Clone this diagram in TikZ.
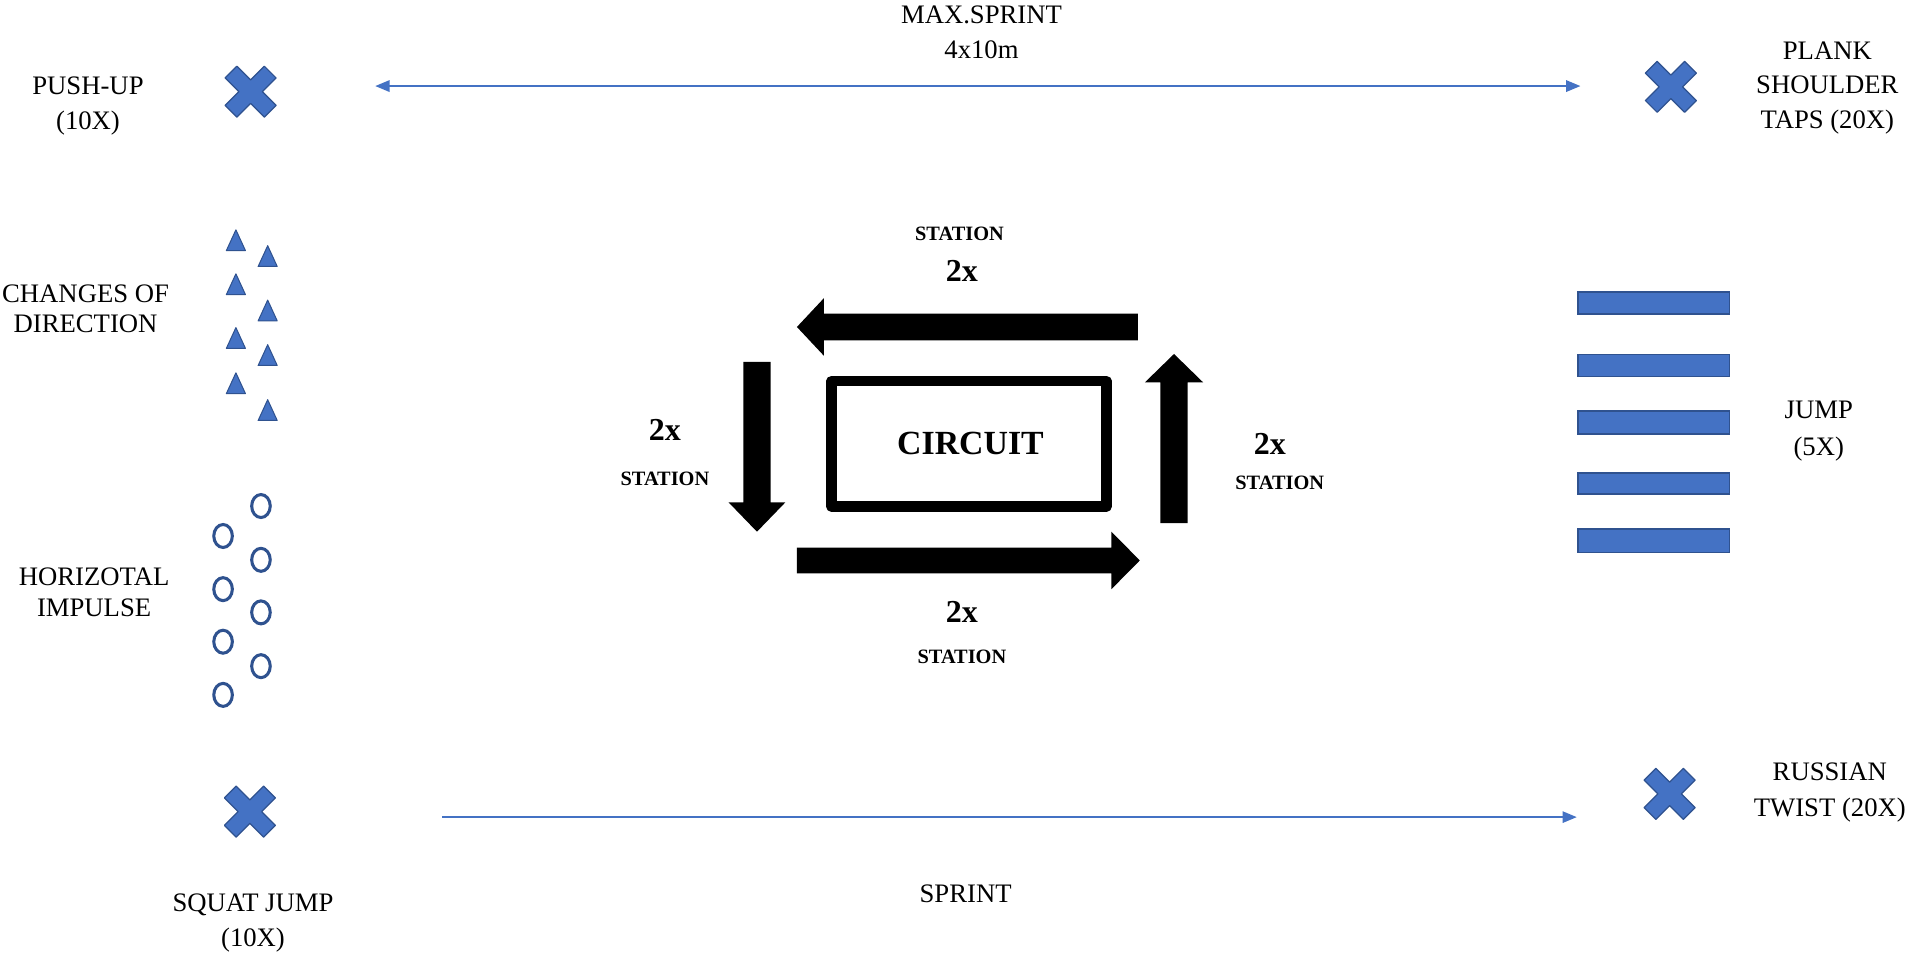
\documentclass[tikz,border=0pt]{standalone}
\usepackage{fontspec}
\setmainfont{Liberation Serif}
\usetikzlibrary{arrows.meta}
\definecolor{accent}{HTML}{4472C4}
\definecolor{accentdark}{HTML}{2F528F}
\tikzset{
  lbl/.style={font=\fontsize{13.1}{#1}\selectfont, align=center, inner sep=0pt},
  lbl/.default=17pt,
  cnt/.style={font=\bfseries\fontsize{15.7}{18}\selectfont, inner sep=0pt},
  stn/.style={font=\bfseries\fontsize{10}{12}\selectfont, inner sep=0pt},
  ttl/.style={font=\bfseries\fontsize{16.6}{20}\selectfont, inner sep=0pt},
  xmark/.style={fill=accent, draw=accentdark, line width=0.6pt, line join=round},
  tri/.style={fill=accent, draw=accentdark, line width=0.5pt, line join=round},
  ring/.style={draw=accentdark, line width=1.5pt},
  bar/.style={fill=accent, draw=accentdark, line width=0.8pt},
  bigarrow/.style={fill=black},
  thinline/.style={draw=accent, line width=0.85pt},
  anchorpt/.style={inner sep=0pt, minimum size=0pt},
  circbox/.style={draw=black, line width=5.04pt, line join=round, minimum width=135pt, minimum height=61.6pt, inner sep=0pt},
  xshape/.pic={
    \path[xmark, rotate=45] (-6.8,22.7) -- (6.8,22.7) -- (6.8,6.8) -- (22.7,6.8) -- (22.7,-6.8)
      -- (6.8,-6.8) -- (6.8,-22.7) -- (-6.8,-22.7) -- (-6.8,-6.8) -- (-22.7,-6.8)
      -- (-22.7,6.8) -- (-6.8,6.8) -- cycle;
  },
}
\begin{document}
\begin{tikzpicture}[x=0.6pt, y=-0.6pt]
\useasboundingbox (0,0) rectangle (1570,779.7);

% ---- text labels
\node[lbl=17.2pt] (pushup) at (72,86.6) {PUSH-UP\\(10X)};
\node[lbl=14.9pt] (changes) at (70,252.4) {CHANGES OF\\DIRECTION};
\node[lbl=15.3pt] (horiz) at (77,484.5) {HORIZOTAL\\IMPULSE};
\node[lbl=17.1pt] (squat) at (207,755.2) {SQUAT JUMP\\(10X)};
\node[lbl=17pt] (maxsprint) at (803,26.5) {MAX.SPRINT\\4x10m};
\node[lbl=16.8pt] (plank) at (1495,72) {PLANK\\SHOULDER\\TAPS (20X)};
\node[lbl=18pt] (jump) at (1488,352.5) {JUMP\\(5X)};
\node[lbl=17.4pt] (russian) at (1497,648.5) {RUSSIAN\\TWIST (20X)};
\node[lbl] (sprint) at (790,731) {SPRINT};

% ---- X markers
\node[anchorpt] (pushx) at (205,75) {};
\node[anchorpt] (plankx) at (1367,71) {};
\node[anchorpt] (squatx) at (204.5,664) {};
\node[anchorpt] (russx) at (1366,649.5) {};
\pic at (pushx) {xshape};
\pic at (plankx) {xshape};
\pic at (squatx) {xshape};
\pic at (russx) {xshape};

% ---- sprint lines
\coordinate (topL) at (307,70.4);
\coordinate (topR) at (1293,70.4);
\coordinate (botL) at (362,668.5);
\coordinate (botR) at (1290,668.5);
\draw[thinline, {Triangle[length=7pt,width=5.6pt]}-{Triangle[length=7pt,width=5.6pt]}] (topL) -- (topR);
\draw[thinline, -{Triangle[length=7pt,width=5.6pt]}] (botL) -- (botR);

% ---- cones (triangles)
\foreach \x/\y in {193/196.5, 193/232.5, 193/276.5, 193/313.5, 219/209.5, 219/254, 219/290.5, 219/335.5}{
  \path[tri] (\x-7.8,\y+8.5) -- (\x+7.8,\y+8.5) -- (\x,\y-8.5) -- cycle;
}

% ---- rings
\foreach \x/\y in {213.5/414, 213.5/458, 213.5/501, 213.5/545, 182.5/438.5, 182.5/482, 182.5/525, 182.5/568.5}{
  \path[ring] (\x,\y) ellipse [x radius=7.6, y radius=9.4];
}

% ---- jump bars
\foreach \ya/\yb in {239/257, 290/308, 336/355, 387/404, 433/452}{
  \path[bar] (1291,\ya) rectangle (1415,\yb);
}

% ---- circuit
\node[circbox] (circuit) at (792.7,363.1) {};
\node[ttl] (circtxt) at (794,363) {CIRCUIT};

% big arrows
\path[bigarrow] (931,256.5) -- (674,256.5) -- (674,244) -- (652,267.5) -- (674,291) -- (674,278.5) -- (931,278.5) -- cycle;
\path[bigarrow] (608.1,296) -- (630.5,296) -- (630.5,411) -- (642.5,411) -- (619.3,435) -- (596.1,411) -- (608.1,411) -- cycle;
\path[bigarrow] (949.4,428) -- (971.6,428) -- (971.6,312.8) -- (984.3,312.8) -- (960.5,289.6) -- (936.7,312.8) -- (949.4,312.8) -- cycle;
\path[bigarrow] (652,448) -- (909.3,448) -- (909.3,435) -- (932.5,458.5) -- (909.3,482) -- (909.3,469) -- (652,469) -- cycle;

% circuit labels
\node[stn] (stTop) at (785,191) {STATION};
\node[cnt] (nTop) at (787,222) {2x};
\node[cnt] (nLeft) at (544,352) {2x};
\node[stn] (stLeft) at (544,392) {STATION};
\node[cnt] (nRight) at (1039,363) {2x};
\node[stn] (stRight) at (1047,395) {STATION};
\node[cnt] (nBot) at (787,501) {2x};
\node[stn] (stBot) at (787,537) {STATION};
\end{tikzpicture}
\end{document}
